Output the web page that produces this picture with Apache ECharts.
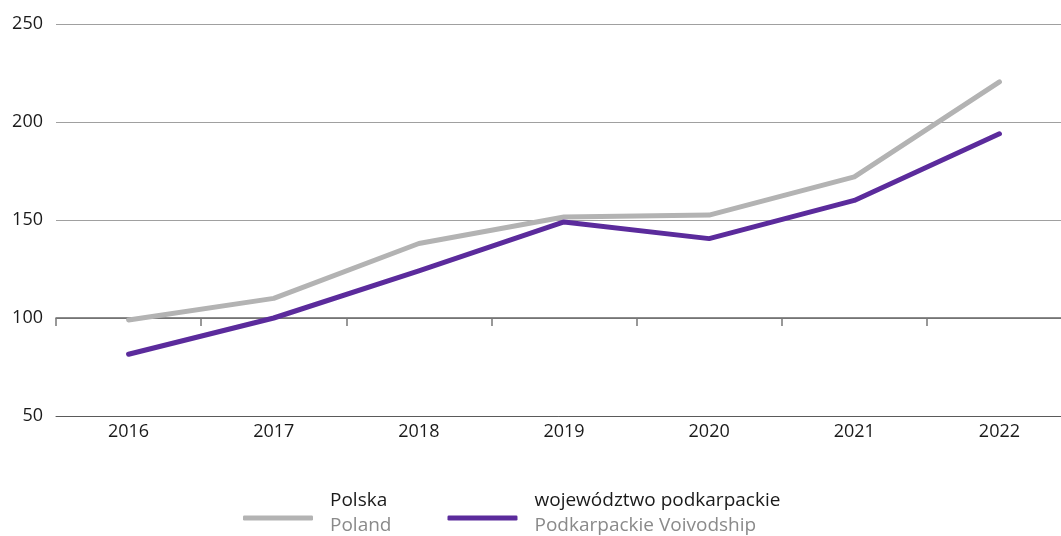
<!DOCTYPE html>
<html>
<head>
<meta charset="utf-8">
<script src="https://cdn.jsdelivr.net/npm/echarts@6/dist/echarts.min.js"></script>
<style>
html,body{margin:0;padding:0;background:#fff;}
#c{width:1061px;height:536px;}
</style>
</head>
<body>
<div id="c"></div>
<script>
const years = ['2016','2017','2018','2019','2020','2021','2022'];
const polska = [99, 110, 138, 151.5, 152.5, 172, 220.5];
const podkarpackie = [81.5, 100, 124, 149, 140.5, 160, 194];
const yTicks = [50, 100, 150, 200, 250];
const seriesNames = ['Polska', 'województwo podkarpackie'];
const seriesNamesEn = ['Poland', 'Podkarpackie Voivodship'];

const FONT = '"Open Sans", "Noto Sans", sans-serif';
const chart = echarts.init(document.getElementById('c'), null, {renderer: 'canvas'});
chart.setOption({
  animation: false,
  backgroundColor: '#fff',
  grid: {left: 56, width: 1016, top: 24, bottom: 120, containLabel: false, outerBoundsMode: 'none'},
  xAxis: [
    {
      type: 'category', data: years, boundaryGap: true, position: 'bottom',
      axisLine: {show: true, lineStyle: {color: '#5a5a5a', width: 1}},
      axisTick: {show: false},
      axisLabel: {color: '#1a1a1a', fontSize: 18, fontFamily: FONT, margin: 7}
    },
    {
      type: 'category', data: years, boundaryGap: true, position: 'bottom', offset: -98,
      axisLine: {show: true, lineStyle: {color: '#666', width: 1.5}},
      axisTick: {show: true, length: 8, inside: false, lineStyle: {color: '#777', width: 1.5}},
      axisLabel: {show: false}
    }
  ],
  yAxis: {
    type: 'value', min: yTicks[0], max: yTicks[yTicks.length - 1], interval: 50,
    axisLine: {show: false}, axisTick: {show: false},
    axisLabel: {color: '#1a1a1a', fontSize: 18, fontFamily: FONT, margin: 13},
    splitLine: {show: true, lineStyle: {color: '#a0a0a0', width: 1.2}}
  },
  legend: {
    left: 243, top: 491, padding: 0, itemWidth: 70, itemHeight: 5, itemGap: 56,
    icon: 'roundRect',
    data: seriesNames,
    formatter: function (name) {
      const i = seriesNames.indexOf(name);
      return '{a|' + name + '}\n{b|' + seriesNamesEn[i] + '}';
    },
    textStyle: {
      padding: [0, 0, 10, 12],
      rich: {
        a: {color: '#1a1a1a', fontSize: 19, fontFamily: FONT, lineHeight: 25},
        b: {color: '#8a8a8a', fontSize: 19, fontFamily: FONT, lineHeight: 25}
      }
    }
  },
  series: [
    {
      name: seriesNames[0], type: 'line', data: polska, xAxisIndex: 0,
      symbol: 'none', color: '#b3b3b3',
      lineStyle: {width: 5, cap: 'round', join: 'round', color: '#b3b3b3'}
    },
    {
      name: seriesNames[1], type: 'line', data: podkarpackie, xAxisIndex: 0,
      symbol: 'none', color: '#5b2b9c',
      lineStyle: {width: 5, cap: 'round', join: 'round', color: '#5b2b9c'}
    }
  ]
});
</script>
</body>
</html>
